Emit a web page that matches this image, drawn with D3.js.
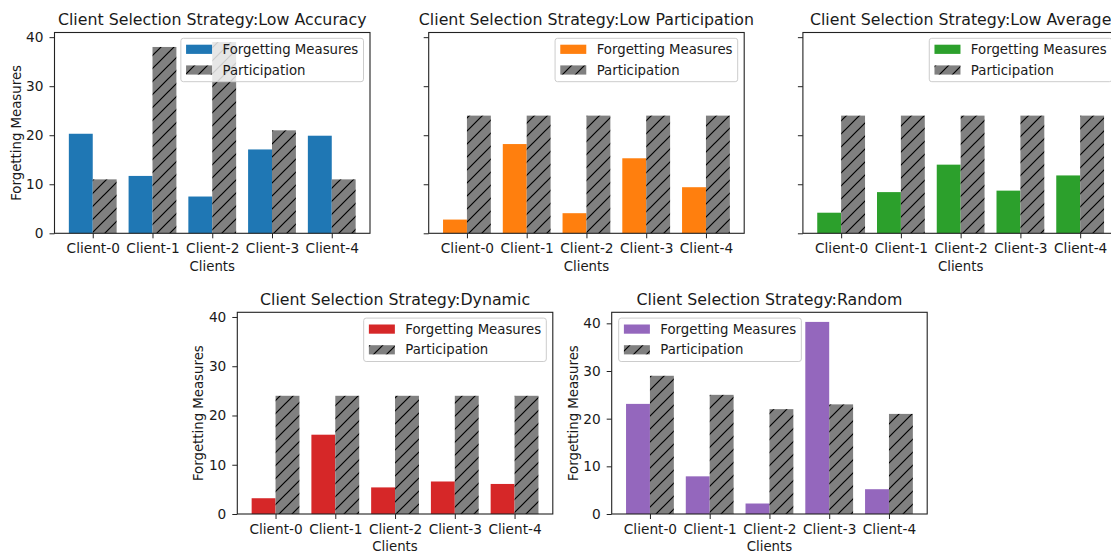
<!DOCTYPE html>
<html>
<head>
<meta charset="utf-8">
<script src="https://cdn.jsdelivr.net/npm/d3@7"></script>
<style>
  html, body { margin: 0; padding: 0; background: #ffffff; }
  svg { display: block; font-family: "DejaVu Sans", sans-serif; }
</style>
</head>
<body>
<svg id="chart" width="1111" height="554"></svg>
<script>
// Per-client values for each client selection strategy
const clients = ["Client-0", "Client-1", "Client-2", "Client-3", "Client-4"];
const strategies = ["Low Accuracy", "Low Participation", "Low Average", "Dynamic", "Random"];

const forgetLowAccuracy = [20.3, 11.7, 7.5, 17.1, 19.9];
const partLowAccuracy = [11, 38, 39, 21, 11];

const forgetLowParticipation = [2.8, 18.2, 4.1, 15.3, 9.4];
const partLowParticipation = [24, 24, 24, 24, 24];

const forgetLowAverage = [4.2, 8.4, 14.0, 8.7, 11.8];
const partLowAverage = [24, 24, 24, 24, 24];

const forgetDynamic = [3.2, 16.1, 5.4, 6.6, 6.1];
const partDynamic = [24, 24, 24, 24, 24];

const forgetRandom = [23.1, 7.9, 2.2, 40.3, 5.2];
const partRandom = [29, 25, 22, 23, 21];

const yTicks = [0, 10, 20, 30, 40];
const seriesNames = ["Forgetting Measures", "Participation"];
const barColors = ["#1f77b4", "#ff7f0e", "#2ca02c", "#d62728", "#9467bd"];

// Panel placement (axes box in page pixels)
const W = 315.5;
const panels = [
  { forget: forgetLowAccuracy, part: partLowAccuracy, x: 54.5, top: 32.5, bottom: 233.3, ylabels: true, legend: "right", group: 0 },
  { forget: forgetLowParticipation, part: partLowParticipation, x: 428.7, top: 32.5, bottom: 233.3, ylabels: false, legend: "right", group: 0 },
  { forget: forgetLowAverage, part: partLowAverage, x: 802.9, top: 32.5, bottom: 233.3, ylabels: false, legend: "right", group: 0 },
  { forget: forgetDynamic, part: partDynamic, x: 237.3, top: 312.3, bottom: 514, ylabels: true, legend: "right", group: 0 },
  { forget: forgetRandom, part: partRandom, x: 611.7, top: 312.3, bottom: 514, ylabels: true, legend: "left", group: 1 }
];

// Shared y-limits per group: 5% headroom above the tallest bar
const groupMax = {};
panels.forEach(p => {
  const m = d3.max(p.forget.concat(p.part));
  groupMax[p.group] = Math.max(groupMax[p.group] || 0, m);
});

const svg = d3.select("#chart");
const textColor = "#1a1a1a";
const fs = 13.3;

// Hatch fill for participation bars
const H = 13;
const defs = svg.append("defs");
const pat = defs.append("pattern")
  .attr("id", "hatch")
  .attr("patternUnits", "userSpaceOnUse")
  .attr("width", H).attr("height", H);
pat.append("rect").attr("width", H).attr("height", H).attr("fill", "#808080");
pat.append("path")
  .attr("d", `M0,${H} L${H},0 M-2,2 L2,-2 M${H - 2},${H + 2} L${H + 2},${H - 2}`)
  .attr("stroke", "#000").attr("stroke-width", 1.2);

panels.forEach((p, k) => {
  const g = svg.append("g");
  const x = d3.scaleLinear().domain([-0.64, 4.64]).range([p.x, p.x + W]);
  const y = d3.scaleLinear().domain([0, groupMax[p.group] * 1.05]).range([p.bottom, p.top]);
  const idx = d3.range(clients.length);

  // Forgetting measure bars (left of each tick)
  g.append("g").selectAll("rect").data(idx).join("rect")
    .attr("x", i => x(i - 0.4))
    .attr("width", i => x(i) - x(i - 0.4))
    .attr("y", i => y(p.forget[i]))
    .attr("height", i => y(0) - y(p.forget[i]))
    .attr("fill", barColors[k]);

  // Participation bars (right of each tick)
  g.append("g").selectAll("rect").data(idx).join("rect")
    .attr("x", i => x(i))
    .attr("width", i => x(i + 0.4) - x(i))
    .attr("y", i => y(p.part[i]))
    .attr("height", i => y(0) - y(p.part[i]))
    .attr("fill", "url(#hatch)");

  // X axis
  const xa = g.append("g")
    .attr("transform", `translate(0,${p.bottom})`)
    .call(d3.axisBottom(x).tickValues(idx).tickFormat(i => clients[i])
      .tickSize(5).tickSizeOuter(0).tickPadding(5));
  xa.select(".domain").remove();
  xa.selectAll("line").attr("stroke", "#222").attr("stroke-width", 1);
  xa.selectAll("text").attr("font-size", 13.7).attr("fill", textColor)
    .attr("font-family", "DejaVu Sans");

  // Y axis
  const ya = g.append("g")
    .attr("transform", `translate(${p.x},0)`)
    .call(d3.axisLeft(y).tickValues(yTicks)
      .tickFormat(p.ylabels ? d3.format("d") : () => "")
      .tickSize(5).tickSizeOuter(0).tickPadding(6));
  ya.select(".domain").remove();
  ya.selectAll("line").attr("stroke", "#222").attr("stroke-width", 1);
  ya.selectAll("text").attr("font-size", 13.7).attr("fill", textColor)
    .attr("font-family", "DejaVu Sans");

  // Axes frame
  g.append("rect")
    .attr("x", p.x).attr("y", p.top)
    .attr("width", W).attr("height", p.bottom - p.top)
    .attr("fill", "none").attr("stroke", "#222").attr("stroke-width", 1.1);

  // Title and axis labels
  g.append("text")
    .attr("x", p.x + W / 2).attr("y", p.top - 7.5)
    .attr("text-anchor", "middle").attr("font-size", 15.8).attr("fill", textColor)
    .text("Client Selection Strategy:" + strategies[k]);

  g.append("text")
    .attr("x", p.x + W / 2).attr("y", p.bottom + 37.4)
    .attr("text-anchor", "middle").attr("font-size", fs).attr("fill", textColor)
    .text("Clients");

  if (p.ylabels) {
    const cy = (p.top + p.bottom) / 2;
    g.append("text")
      .attr("transform", `translate(${p.x - 38.5},${cy}) rotate(-90)`)
      .attr("text-anchor", "middle").attr("dy", "0.35em")
      .attr("font-size", fs).attr("fill", textColor)
      .text("Forgetting Measures");
  }

  // Legend
  const lg = g.append("g");
  const frame = lg.append("rect");
  const labels = seriesNames.map(name =>
    lg.append("text").attr("font-size", fs).attr("fill", textColor)
      .attr("dy", "0.35em").text(name));
  const textW = d3.max(labels, t => t.node().getComputedTextLength());
  const lw = 5.2 + 26 + 10.4 + textW + 5.2;
  const lh = 43.4;
  const lx = p.legend === "right" ? p.x + W - 6.5 - lw : p.x + 7;
  const ly = p.top + 5.8;
  frame.attr("x", lx).attr("y", ly).attr("width", lw).attr("height", lh)
    .attr("rx", 2.5)
    .attr("fill", "#ffffff").attr("fill-opacity", 0.8)
    .attr("stroke", "#cccccc").attr("stroke-width", 1);
  const rowY = [ly + 11, ly + 31.7];
  [barColors[k], "url(#hatch)"].forEach((fill, j) => {
    lg.append("rect")
      .attr("x", lx + 5.2).attr("y", rowY[j] - 4.6)
      .attr("width", 26).attr("height", 9.2)
      .attr("fill", fill);
    labels[j].attr("x", lx + 41.6).attr("y", rowY[j]);
  });
  labels.forEach(t => t.raise());
});
</script>
</body>
</html>
